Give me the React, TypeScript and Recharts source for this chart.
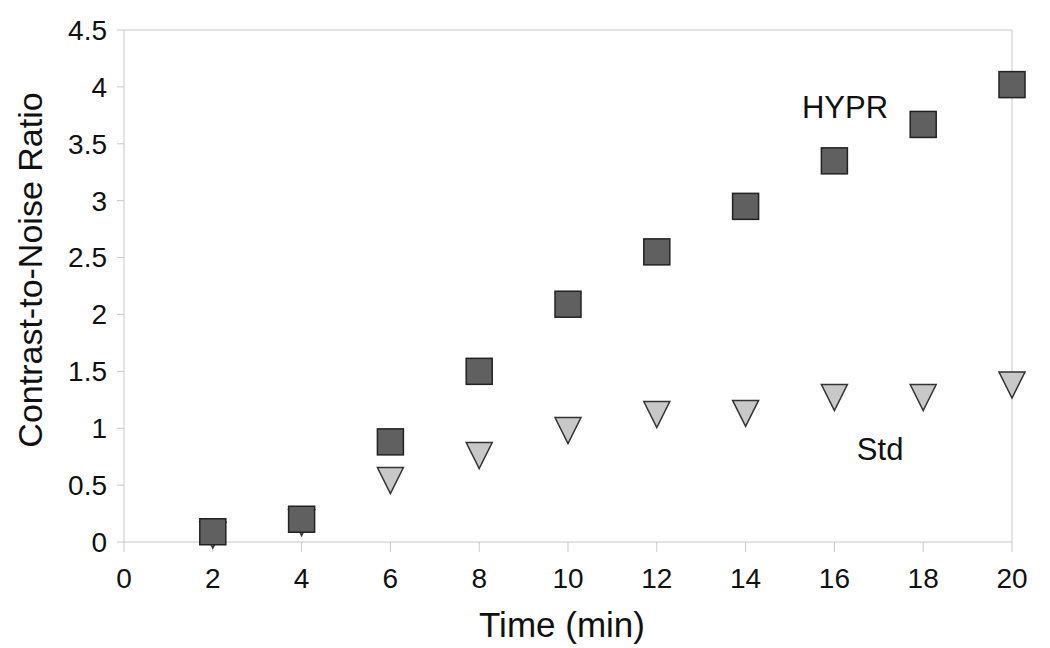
import { ScatterChart, Scatter, XAxis, YAxis, ReferenceLine, ReferenceDot, Label } from 'recharts';

const times = [2, 4, 6, 8, 10, 12, 14, 16, 18, 20];
const hyprValues = [0.09, 0.2, 0.88, 1.5, 2.09, 2.55, 2.95, 3.35, 3.67, 4.02];
const stdValues = [0.06, 0.17, 0.54, 0.76, 0.98, 1.12, 1.13, 1.27, 1.27, 1.38];
const xTicks = [0, 2, 4, 6, 8, 10, 12, 14, 16, 18, 20];
const yTicks = [0, 0.5, 1, 1.5, 2, 2.5, 3, 3.5, 4, 4.5];

const hyprData = times.map((t, i) => ({ t, v: hyprValues[i] }));
const stdData = times.map((t, i) => ({ t, v: stdValues[i] }));

const FONT = '"Liberation Sans", Arial, sans-serif';
const AXIS = '#c8c8c8';
const INK = '#111';

const Square = (props: any) => {
    const { cx, cy } = props;
    return <rect x={cx - 13} y={cy - 13} width={26} height={26} fill="#606060" stroke="#222" strokeWidth={1.5} />;
};

const TriangleDown = (props: any) => {
    const { cx, cy } = props;
    return (
        <path
            d={`M${cx - 13},${cy - 13} L${cx + 13},${cy - 13} L${cx},${cy + 13} Z`}
            fill="#c8c8c8"
            stroke="#333"
            strokeWidth={1.5}
        />
    );
};

export default function App() {
    return (
        <div style={{ position: 'absolute', left: 0, top: 0, width: 1050, height: 648, background: '#fff', fontFamily: FONT }}>
            <ScatterChart width={1050} height={648} margin={{ top: 30, right: 38, bottom: 0, left: 0 }}>
                <XAxis
                    type="number"
                    dataKey="t"
                    domain={[0, 20]}
                    ticks={xTicks}
                    height={106}
                    stroke={AXIS}
                    tickSize={10}
                    tick={{ fill: INK, fontSize: 28, fontFamily: FONT, dy: 14 }}
                >
                    <Label
                        content={() => (
                            <text x={562} y={637} textAnchor="middle" fill={INK} fontSize={35} fontFamily={FONT}>
                                Time (min)
                            </text>
                        )}
                    />
                </XAxis>
                <YAxis
                    type="number"
                    dataKey="v"
                    domain={[0, 4.5]}
                    ticks={yTicks}
                    width={124}
                    stroke={AXIS}
                    tickSize={7}
                    tick={{ fill: INK, fontSize: 28, fontFamily: FONT, dx: -8 }}
                >
                    <Label
                        content={() => (
                            <text transform="translate(42,270) rotate(-90)" textAnchor="middle" fill={INK} fontSize={34} fontFamily={FONT}>
                                Contrast-to-Noise Ratio
                            </text>
                        )}
                    />
                </YAxis>
                <ReferenceLine y={4.5} stroke={AXIS} strokeWidth={1} />
                <ReferenceLine x={20} stroke={AXIS} strokeWidth={1} />
                <Scatter data={stdData} shape={TriangleDown} isAnimationActive={false} />
                <Scatter data={hyprData} shape={Square} isAnimationActive={false} />
                <ReferenceDot x={16.24} y={3.82} r={0} stroke="none" fill="none">
                    <Label value="HYPR" position="center" style={{ fill: INK, fontSize: 31, fontFamily: FONT }} />
                </ReferenceDot>
                <ReferenceDot x={17.03} y={0.82} r={0} stroke="none" fill="none">
                    <Label value="Std" position="center" style={{ fill: INK, fontSize: 31, fontFamily: FONT }} />
                </ReferenceDot>
            </ScatterChart>
        </div>
    );
}
